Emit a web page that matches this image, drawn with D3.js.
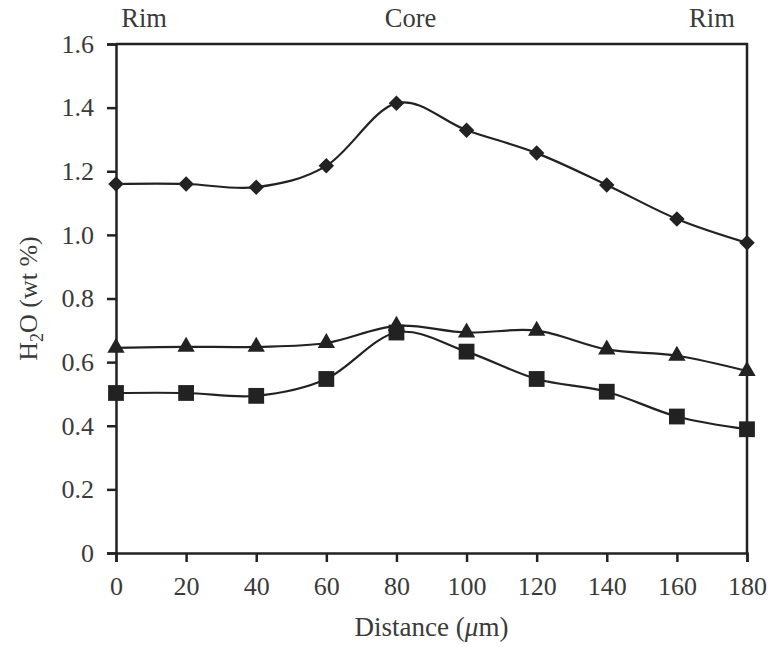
<!doctype html>
<meta charset="utf-8">
<title>H2O profile</title>
<script src="https://cdn.jsdelivr.net/npm/d3@7/dist/d3.min.js"></script>
<style>
  body { margin: 0; background: #fff; }
  text { font-family: "Liberation Serif", "DejaVu Serif", serif; fill: #3a3a3a; }
</style>
<div id="chart"></div>
<script>
  // data
  const distance = [0, 20, 40, 60, 80, 100, 120, 140, 160, 180]
  const diamondSeries = [1.16, 1.16, 1.15, 1.217, 1.414, 1.329, 1.257, 1.157, 1.05, 0.975]
  const triangleSeries = [0.645, 0.648, 0.648, 0.66, 0.714, 0.693, 0.699, 0.64, 0.62, 0.572]
  const squareSeries = [0.503, 0.503, 0.494, 0.547, 0.693, 0.633, 0.547, 0.507, 0.429, 0.389]
  const xTicks = [0, 20, 40, 60, 80, 100, 120, 140, 160, 180]
  const yTicks = [0, 0.2, 0.4, 0.6, 0.8, 1.0, 1.2, 1.4, 1.6]
  const topLabels = [{ x: 8, t: 'Rim' }, { x: 84, t: 'Core' }, { x: 170, t: 'Rim' }]

  const W = 769, H = 647
  const m = { left: 116, right: 22, top: 44, bottom: 94 }
  const ink = '#222'

  const svg = d3.select('#chart').append('svg')
    .attr('width', W)
    .attr('height', H)

  const x = d3.scaleLinear().domain([0, 180]).range([m.left, W - m.right])
  const y = d3.scaleLinear().domain([0, 1.6]).range([H - m.bottom, m.top])

  // frame (top + right sides, no ticks)
  svg.append('path')
    .attr('d', `M${x(0)},${y(1.6)}H${x(180)}V${y(0)}`)
    .attr('fill', 'none')
    .attr('stroke', ink)
    .attr('stroke-width', 2.5)

  // axes
  const yAxis = svg.append('g')
    .attr('transform', `translate(${x(0)},0)`)
    .call(d3.axisLeft(y).tickValues(yTicks).tickSize(9).tickPadding(13)
      .tickFormat(d => d === 0 ? '0' : d3.format('.1f')(d)))
  const xAxis = svg.append('g')
    .attr('transform', `translate(0,${y(0)})`)
    .call(d3.axisBottom(x).tickValues(xTicks).tickSize(9).tickPadding(15))

  for (const ax of [xAxis, yAxis]) {
    ax.select('.domain').attr('stroke', ink).attr('stroke-width', 2.5)
    ax.selectAll('.tick line').attr('stroke', ink).attr('stroke-width', 2.5)
    ax.selectAll('.tick text')
      .attr('font-family', '"Liberation Serif", serif')
      .attr('font-size', 26)
      .attr('fill', '#3a3a3a')
  }

  // axis titles
  svg.append('text')
    .attr('x', x(90))
    .attr('y', 636)
    .attr('text-anchor', 'middle')
    .attr('font-size', 27)
    .html('Distance (<tspan font-style="italic">μ</tspan>m)')

  svg.append('text')
    .attr('transform', `translate(37,${y(0.8)}) rotate(-90)`)
    .attr('text-anchor', 'middle')
    .attr('font-size', 26)
    .html('H<tspan font-size="18" dy="6">2</tspan><tspan dy="-6">O (wt %)</tspan>')

  // Rim / Core labels
  svg.selectAll('.toplab')
    .data(topLabels)
    .enter()
    .append('text')
    .attr('class', 'toplab')
    .attr('x', d => x(d.x))
    .attr('y', 27)
    .attr('text-anchor', 'middle')
    .attr('font-size', 26.5)
    .text(d => d.t)

  // smoothed lines like the spreadsheet original
  const line = d3.line()
    .x(d => x(d[0]))
    .y(d => y(d[1]))
    .curve(d3.curveCatmullRom.alpha(0))

  const series = [
    { vals: squareSeries, shape: 'square' },
    { vals: triangleSeries, shape: 'triangle' },
    { vals: diamondSeries, shape: 'diamond' }
  ]

  // diamond = square turned 45deg
  const symbolFor = {
    diamond: { d: d3.symbol().type(d3.symbolSquare).size(120), rot: 45 },
    triangle: { d: d3.symbol().type(d3.symbolTriangle).size(130), rot: 0 },
    square: { d: d3.symbol().type(d3.symbolSquare).size(250), rot: 0 }
  }

  series.forEach(s => {
    const pts = distance.map((d, i) => [d, s.vals[i]])
    svg.append('path')
      .attr('d', line(pts))
      .attr('fill', 'none')
      .attr('stroke', ink)
      .attr('stroke-width', 2.2)

    const sym = symbolFor[s.shape]
    svg.selectAll(null)
      .data(pts)
      .enter()
      .append('path')
      .attr('transform', d => `translate(${x(d[0])},${y(d[1])}) rotate(${sym.rot})`)
      .attr('d', sym.d())
      .attr('fill', ink)
  })
</script>
